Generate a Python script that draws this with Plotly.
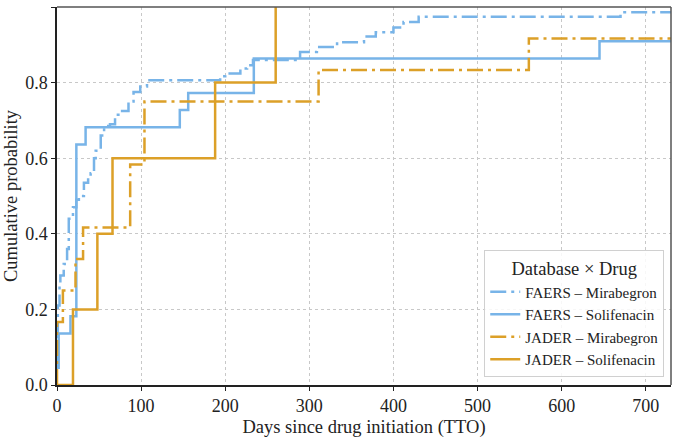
import plotly.graph_objects as go

# FAERS - Mirabegron (dash-dot, blue)
faers_mira_days = [0, 1, 3, 4, 8, 12, 14, 19, 23, 26, 32, 37, 40, 44, 46, 52, 56, 63, 69, 75, 85, 91, 99, 107,
                   194, 200, 218, 226, 233, 289, 309, 333, 365, 379, 400, 412, 430, 670, 730]
faers_mira_prob = [0.05, 0.21, 0.27, 0.29, 0.32, 0.36, 0.44, 0.47, 0.49, 0.50, 0.535, 0.55, 0.56, 0.60, 0.62,
                   0.66, 0.685, 0.69, 0.715, 0.725, 0.75, 0.775, 0.79, 0.806, 0.817, 0.824, 0.837, 0.846,
                   0.86, 0.881, 0.894, 0.907, 0.922, 0.933, 0.946, 0.96, 0.974, 0.986, 0.986]

# FAERS - Solifenacin (solid, blue)
faers_soli_days = [0, 2, 16, 23, 34, 146, 156, 234, 645, 730]
faers_soli_prob = [1/22, 3/22, 4/22, 14/22, 15/22, 16/22, 17/22, 19/22, 20/22, 20/22]

# JADER - Mirabegron (dash-dot, orange)
jader_mira_days = [0, 0, 7, 22, 31, 87, 104, 311, 561, 730]
jader_mira_prob = [0, 2/12, 3/12, 4/12, 5/12, 7/12, 9/12, 10/12, 11/12, 11/12]

# JADER - Solifenacin (solid, orange)
jader_soli_days = [0, 19, 48, 66, 188, 260]
jader_soli_prob = [0, 0.2, 0.4, 0.6, 0.8, 1.0]

x_ticks = [0, 100, 200, 300, 400, 500, 600, 700]
y_ticks = [0.0, 0.2, 0.4, 0.6, 0.8, 1.0]

BLUE = "rgb(120,180,232)"
ORANGE = "rgb(220,160,40)"
FONT = "Liberation Serif"
DASHDOT = "16px,5px,3px,5px"

series = [
    ("FAERS – Mirabegron", faers_mira_days, faers_mira_prob, BLUE, DASHDOT),
    ("FAERS – Solifenacin", faers_soli_days, faers_soli_prob, BLUE, "solid"),
    ("JADER – Mirabegron", jader_mira_days, jader_mira_prob, ORANGE, DASHDOT),
    ("JADER – Solifenacin", jader_soli_days, jader_soli_prob, ORANGE, "solid"),
]

fig = go.Figure()
for name, xs, ys, col, dash in series:
    fig.add_trace(go.Scatter(
        x=xs, y=ys, mode="lines", name=name,
        line=dict(color=col, width=2.5, dash=dash, shape="hv"),
    ))

fig.update_layout(
    width=675, height=438,
    margin=dict(l=57, r=4, t=7, b=51),
    plot_bgcolor="white", paper_bgcolor="white",
    font=dict(family=FONT, size=18, color="#222"),
    showlegend=True,
    legend=dict(
        title=dict(text="Database × Drug", side="top center", font=dict(size=18.5, family=FONT, color="#222")),
        x=0.989, y=0.02, xanchor="right", yanchor="bottom",
        bgcolor="rgba(255,255,255,0.85)", bordercolor="#d0d0d0", borderwidth=1,
        font=dict(size=15, family=FONT, color="#222"), tracegroupgap=0,
    ),
    xaxis=dict(
        range=[0, 730], tickvals=x_ticks, ticktext=[str(v) for v in x_ticks],
        tickfont=dict(family=FONT, size=18, color="#222"),
        showgrid=True, gridcolor="#c8c8c8", griddash="dot", gridwidth=1,
        showline=True, linecolor="#222", linewidth=1.5,
        ticks="outside", ticklen=4, tickcolor="#222", zeroline=False,
        title=dict(text="Days since drug initiation (TTO)", standoff=5,
                   font=dict(size=18.5, family=FONT, color="#222")),
    ),
    yaxis=dict(
        range=[0, 1], tickvals=y_ticks, ticktext=[f"{v:.1f}" for v in y_ticks],
        tickfont=dict(family=FONT, size=18, color="#222"),
        showgrid=True, gridcolor="#c8c8c8", griddash="dot", gridwidth=1,
        showline=True, linecolor="#222", linewidth=1.5,
        ticks="outside", ticklen=4, tickcolor="#222", zeroline=False,
        title=dict(text="Cumulative probability", standoff=3,
                   font=dict(size=18.5, family=FONT, color="#222")),
    ),
    shapes=[
        dict(type="line", xref="paper", yref="paper", x0=0, x1=1, y0=1, y1=1,
             line=dict(color="#555", width=1.5)),
        dict(type="line", xref="paper", yref="paper", x0=1, x1=1, y0=0, y1=1,
             line=dict(color="#555", width=1.5)),
    ],
)

fig.write_html("out.html")
